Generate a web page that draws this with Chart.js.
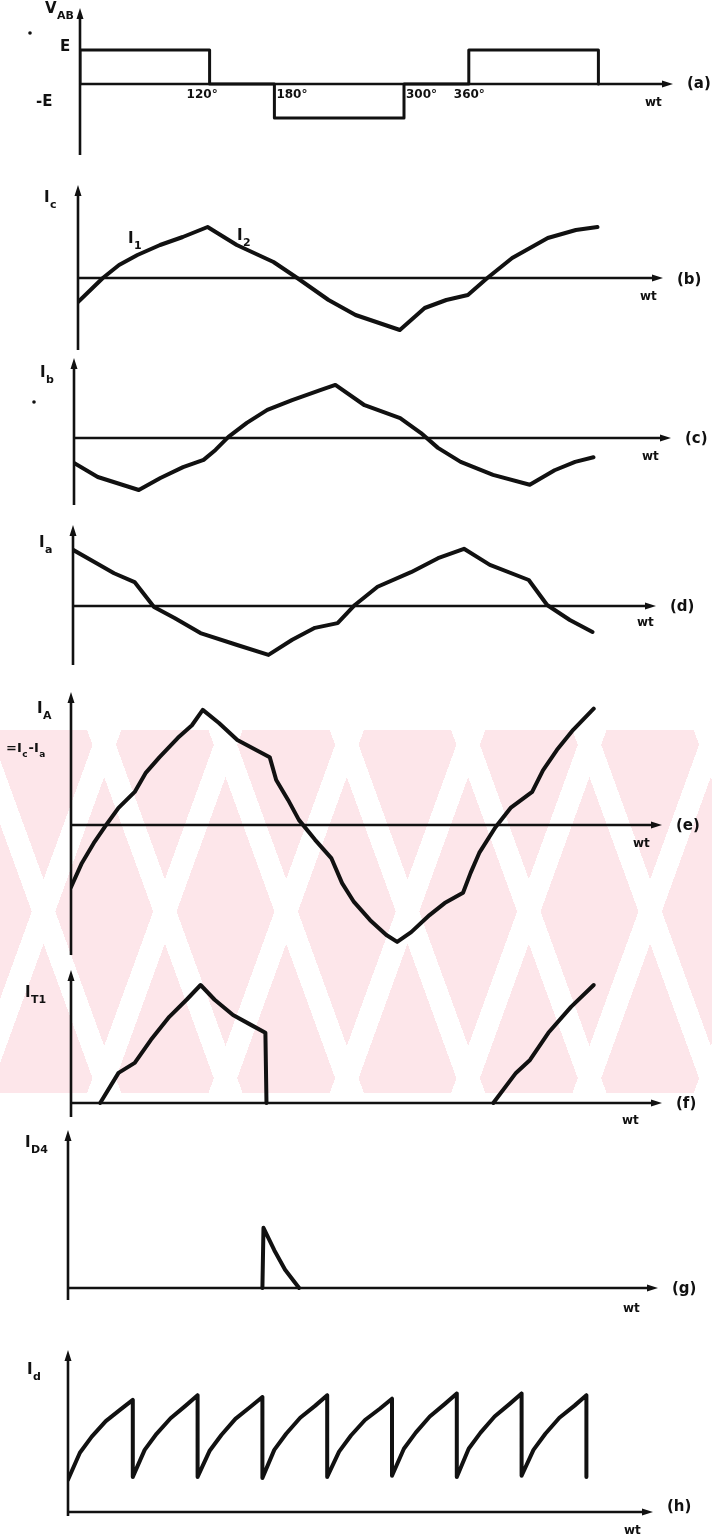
<!DOCTYPE html>
<html>
<head>
<meta charset="utf-8">
<script src="https://cdn.jsdelivr.net/npm/chart.js@4"></script>
<style>
  body { margin: 0; background: #fff; width: 712px; height: 1538px; position: relative; overflow: hidden; }
  .wm {
    position: absolute; left: 0; top: 730px; width: 712px; height: 363px;
    background:
      repeating-linear-gradient(70deg, transparent 0 92px, #fff 92px 114px),
      repeating-linear-gradient(110deg, #fde6ea 0 92px, #fff 92px 114px);
  }
  canvas { position: absolute; left: 0; }
</style>
</head>
<body>
<div class="wm"></div>
<script>
// (a) line voltage V_AB, in units of E
const vabDeg = [0, 0, 120, 120, 180, 180, 300, 300, 360, 360, 480, 480];
const vabVal = [0, 1, 1, 0, 0, -1, -1, 0, 0, 1, 1, 0];
const vabTickDeg = [120, 180, 300, 360];
const vabTickText = ['120°', '180°', '300°', '360°'];

// (b) I_c
const icDeg = [0, 23, 38, 55, 76, 97, 120, 147, 181, 203, 232, 257, 298, 321, 341, 361, 379, 402, 435, 461, 481];
const icVal = [-0.48, 0, 0.26, 0.46, 0.66, 0.82, 1.02, 0.66, 0.32, 0, -0.44, -0.74, -1.04, -0.6, -0.44, -0.34, 0, 0.4, 0.8, 0.96, 1.02];

// (c) I_b
const ibDeg = [0, 22, 60, 80, 101, 120, 131, 143, 160, 179, 202, 228, 242, 269, 302, 321, 337, 358, 388, 422, 445, 464, 481];
const ibVal = [-0.48, -0.75, -1.0, -0.77, -0.56, -0.42, -0.23, 0.02, 0.29, 0.54, 0.73, 0.92, 1.02, 0.63, 0.38, 0.1, -0.19, -0.46, -0.71, -0.9, -0.62, -0.46, -0.37];

// (d) I_a
const iaDeg = [0, 21, 38, 57, 75, 94, 118, 152, 181, 203, 224, 245, 261, 282, 313, 338, 362, 386, 422, 439, 460, 481];
const iaVal = [1.08, 0.83, 0.63, 0.46, -0.02, -0.23, -0.52, -0.75, -0.94, -0.65, -0.42, -0.33, 0.02, 0.37, 0.65, 0.92, 1.1, 0.79, 0.5, 0.02, -0.27, -0.5];

// (e) I_A = I_c - I_a
const iADeg = [0, 10, 21, 31, 44, 59, 69, 82, 99, 112, 122, 137, 154, 184, 190, 201, 211, 226, 241, 251, 262, 277, 292, 302,
               315, 332, 346, 363, 370, 378, 393, 407, 427, 437, 450, 465, 484];
const iAVal = [-1.09, -0.67, -0.32, -0.04, 0.3, 0.58, 0.91, 1.19, 1.53, 1.75, 2.02, 1.79, 1.49, 1.19, 0.79, 0.44, 0.09, -0.26, -0.58, -1.02, -1.35, -1.67, -1.93, -2.05,
               -1.88, -1.58, -1.37, -1.19, -0.84, -0.49, -0.04, 0.3, 0.58, 0.96, 1.32, 1.67, 2.04];

// (f) I_T1
const it1Deg = [27, 44, 59, 74, 91, 107, 120, 133, 150, 167, 180, 181, 300, 391, 412, 425, 442, 463, 484];
const it1Val = [0, 0.51, 0.68, 1.07, 1.46, 1.75, 2.0, 1.75, 1.49, 1.32, 1.19, 0, null, 0, 0.51, 0.73, 1.19, 1.63, 2.0];

// (g) I_D4
const id4Deg = [180, 181, 191, 201, 214];
const id4Val = [0, 1.02, 0.64, 0.31, 0];

// (h) I_d
const idDeg = [0, 11, 22, 35, 49, 60,
               60, 71, 82, 95, 109, 120,
               120, 131, 142, 155, 169, 180,
               180, 191, 202, 215, 229, 240,
               240, 251, 262, 275, 289, 300,
               300, 311, 322, 335, 349, 360,
               360, 371, 382, 395, 409, 420,
               420, 431, 442, 455, 469, 480, 480];
const idVal = [0.56, 1.03, 1.31, 1.58, 1.79, 1.95,
               0.61, 1.08, 1.36, 1.63, 1.85, 2.03,
               0.61, 1.06, 1.34, 1.62, 1.83, 2.0,
               0.59, 1.08, 1.36, 1.64, 1.85, 2.03,
               0.61, 1.05, 1.33, 1.6, 1.8, 1.97,
               0.63, 1.1, 1.38, 1.66, 1.88, 2.06,
               0.61, 1.1, 1.38, 1.66, 1.88, 2.06,
               0.63, 1.08, 1.36, 1.64, 1.85, 2.03, 0.61];

const DEG_PX = 1.08;
const INK = '#111';
const FONT = '"DejaVu Sans", sans-serif';

// label = list of [text, isSubscript]; x,y = page position of the first baseline
const panels = [
  { top: 0, height: 165, axisX: 80, arrowEnd: 673, zeroY: 84, unit: 34, axisTop: 8, axisBot: 155, lw: 3,
    deg: vabDeg, val: vabVal, tag: '(a)', tagY: 88, wtX: 645, wtY: 106,
    labels: [{ x: 45, y: 13, parts: [['V', 0], ['AB', 1]] }, { x: 60, y: 51, parts: [['E', 0]] }, { x: 36, y: 106, parts: [['-E', 0]] }],
    dots: [[30, 33]] },
  { top: 175, height: 185, axisX: 78, arrowEnd: 663, zeroY: 278, unit: 50, axisTop: 185, axisBot: 350, lw: 4,
    deg: icDeg, val: icVal, tag: '(b)', tagY: 284, wtX: 640, wtY: 300,
    labels: [{ x: 44, y: 202, parts: [['I', 0], ['c', 1]] }, { x: 128, y: 243, parts: [['I', 0], ['1', 1]] }, { x: 237, y: 240, parts: [['I', 0], ['2', 1]] }] },
  { top: 345, height: 170, axisX: 74, arrowEnd: 671, zeroY: 438, unit: 52, axisTop: 358, axisBot: 505, lw: 4,
    deg: ibDeg, val: ibVal, tag: '(c)', tagY: 443, wtX: 642, wtY: 460,
    labels: [{ x: 40, y: 377, parts: [['I', 0], ['b', 1]] }], dots: [[34, 402]] },
  { top: 515, height: 160, axisX: 73, arrowEnd: 656, zeroY: 606, unit: 52, axisTop: 525, axisBot: 665, lw: 4,
    deg: iaDeg, val: iaVal, tag: '(d)', tagY: 611, wtX: 637, wtY: 626,
    labels: [{ x: 39, y: 547, parts: [['I', 0], ['a', 1]] }] },
  { top: 680, height: 285, axisX: 71, arrowEnd: 662, zeroY: 825, unit: 57, axisTop: 692, axisBot: 955, lw: 4,
    deg: iADeg, val: iAVal, tag: '(e)', tagY: 830, wtX: 633, wtY: 847,
    labels: [{ x: 37, y: 713, parts: [['I', 0], ['A', 1]] }, { x: 6, y: 752, size: 13, parts: [['=I', 0], ['c', 1], ['-I', 0], ['a', 1]] }] },
  { top: 960, height: 165, axisX: 71, arrowEnd: 662, zeroY: 1103, unit: 59, axisTop: 970, axisBot: 1117, lw: 4,
    deg: it1Deg, val: it1Val, tag: '(f)', tagY: 1108, wtX: 622, wtY: 1124,
    labels: [{ x: 25, y: 997, parts: [['I', 0], ['T1', 1]] }] },
  { top: 1120, height: 205, axisX: 68, arrowEnd: 658, zeroY: 1288, unit: 59, axisTop: 1130, axisBot: 1300, lw: 4,
    deg: id4Deg, val: id4Val, tag: '(g)', tagY: 1293, wtX: 623, wtY: 1312,
    labels: [{ x: 25, y: 1147, parts: [['I', 0], ['D4', 1]] }] },
  { top: 1340, height: 198, axisX: 68, arrowEnd: 653, zeroY: 1512, unit: 57.5, axisTop: 1350, axisBot: 1516, lw: 4,
    deg: idDeg, val: idVal, tag: '(h)', tagY: 1511, wtX: 624, wtY: 1534,
    labels: [{ x: 27, y: 1374, parts: [['I', 0], ['d', 1]] }] }
];

function drawParts(ctx, x, y, parts, size) {
  let cx = x;
  parts.forEach(([t, isSub]) => {
    const s = isSub ? Math.round(size * 0.72) : size;
    ctx.font = 'bold ' + s + 'px ' + FONT;
    ctx.fillText(t, cx, isSub ? y + size * 0.4 : y);
    cx += ctx.measureText(t).width + (isSub ? 1 : 0.5);
  });
}

const decor = {
  id: 'decor',
  afterDraw(chart, args, opts) {
    const p = opts.panel;
    const ctx = chart.ctx;
    const xs = chart.scales.x, ys = chart.scales.y;
    const x0 = xs.getPixelForValue(0), y0 = ys.getPixelForValue(0);
    const xEnd = xs.getPixelForValue(xs.max);
    const yTop = p.axisTop - p.top, yBot = p.axisBot - p.top;
    ctx.save();
    ctx.strokeStyle = INK;
    ctx.fillStyle = INK;
    ctx.lineWidth = 2.6;
    ctx.lineCap = 'butt';
    // axes
    ctx.beginPath();
    ctx.moveTo(x0, yBot); ctx.lineTo(x0, yTop + 8);
    ctx.moveTo(x0, y0); ctx.lineTo(xEnd - 8, y0);
    ctx.stroke();
    // arrow heads
    ctx.beginPath();
    ctx.moveTo(x0, yTop); ctx.lineTo(x0 - 3.5, yTop + 11); ctx.lineTo(x0 + 3.5, yTop + 11); ctx.closePath();
    ctx.moveTo(xEnd, y0); ctx.lineTo(xEnd - 11, y0 - 3.5); ctx.lineTo(xEnd - 11, y0 + 3.5); ctx.closePath();
    ctx.fill();
    // texts
    ctx.textBaseline = 'alphabetic';
    ctx.textAlign = 'left';
    ctx.font = 'bold 15px ' + FONT;
    ctx.fillText(p.tag, xEnd + 14, p.tagY - p.top);
    ctx.font = 'bold 12px ' + FONT;
    ctx.fillText('wt', p.wtX, p.wtY - p.top);
    p.labels.forEach(l => drawParts(ctx, l.x, l.y - p.top, l.parts, l.size || 15));
    (p.dots || []).forEach(([dx, dy]) => {
      ctx.beginPath(); ctx.arc(dx, dy - p.top, 1.8, 0, Math.PI * 2); ctx.fill();
    });
    if (p.deg === vabDeg) {
      const shift = [-23, 2, 2, -15];
      ctx.font = 'bold 12px ' + FONT;
      vabTickDeg.forEach((d, i) => ctx.fillText(vabTickText[i], xs.getPixelForValue(d) + shift[i], 98 - p.top));
    }
    ctx.restore();
  }
};

panels.forEach(p => {
  const cv = document.createElement('canvas');
  cv.width = 712;
  cv.height = p.height;
  cv.style.top = p.top + 'px';
  document.body.appendChild(cv);

  new Chart(cv.getContext('2d'), {
    type: 'line',
    data: {
      datasets: [{
        data: p.deg.map((d, i) => ({ x: d, y: p.val[i] })),
        borderColor: INK,
        borderWidth: p.lw,
        pointRadius: 0,
        tension: 0,
        fill: false,
        spanGaps: false,
        borderJoinStyle: 'round',
        borderCapStyle: 'round'
      }]
    },
    options: {
      responsive: false,
      animation: false,
      events: [],
      layout: { padding: { left: p.axisX, right: 712 - p.arrowEnd, top: 0, bottom: 0 } },
      scales: {
        x: { type: 'linear', display: false, min: 0, max: (p.arrowEnd - p.axisX) / DEG_PX },
        y: { type: 'linear', display: false, min: (p.zeroY - p.top - p.height) / p.unit, max: (p.zeroY - p.top) / p.unit }
      },
      plugins: { legend: { display: false }, tooltip: { enabled: false }, decor: { panel: p } }
    },
    plugins: [decor]
  });
});
</script>
</body>
</html>
